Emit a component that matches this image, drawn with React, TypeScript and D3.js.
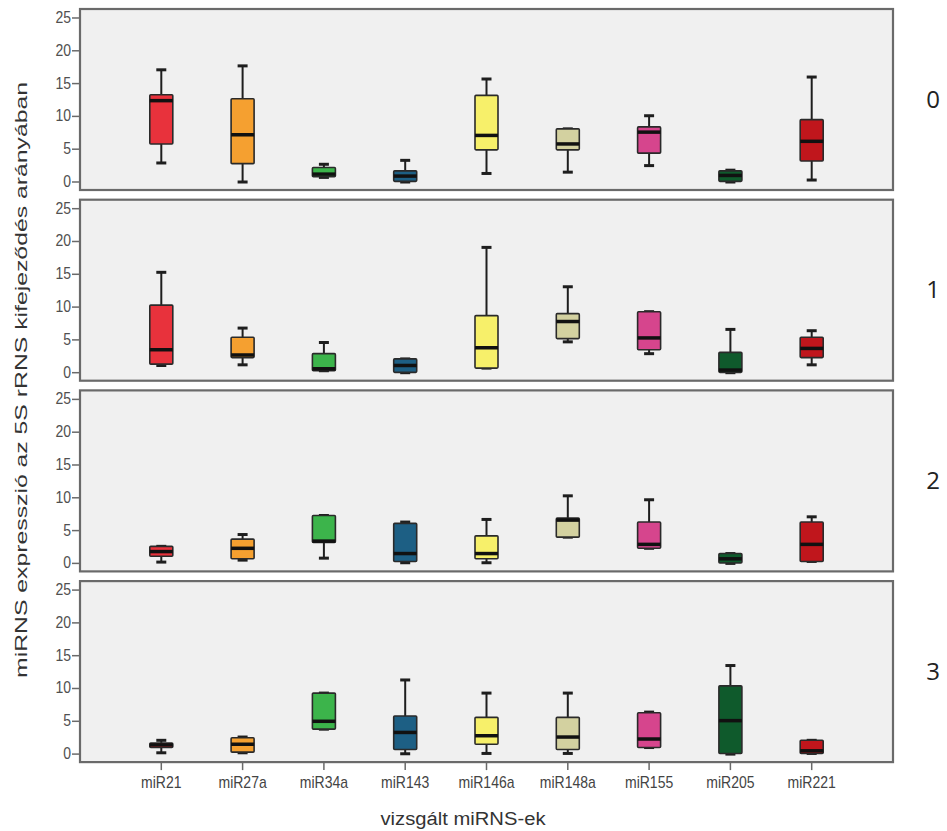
import * as d3 from "d3";

// categories and groups
const mirnas = ["miR21", "miR27a", "miR34a", "miR143", "miR146a", "miR148a", "miR155", "miR205", "miR221"];
const groupLabels = ["0", "1", "2", "3"];
const yTicks = [0, 5, 10, 15, 20, 25];
const boxColors = ["#e8323c", "#f5a030", "#3cb44b", "#1d5f84", "#f7f06a", "#d3d1a0", "#d6458d", "#0f5a2c", "#c0161c"];

// [whisker low, q1, median, q3, whisker high] for each miRNA, one array per group
const group0 = [
  [2.9, 5.8, 12.4, 13.3, 17.1],
  [0, 2.8, 7.2, 12.7, 17.7],
  [0.7, 0.8, 1.2, 2.2, 2.7],
  [0, 0.1, 0.9, 1.7, 3.3],
  [1.3, 4.9, 7.1, 13.2, 15.7],
  [1.5, 4.9, 5.8, 8.1, 8.1],
  [2.5, 4.4, 7.6, 8.4, 10.1],
  [0, 0.1, 1.0, 1.7, 1.8],
  [0.3, 3.2, 6.2, 9.5, 16.0],
];
const group1 = [
  [1.1, 1.3, 3.5, 10.3, 15.3],
  [1.2, 2.3, 2.7, 5.4, 6.8],
  [0.3, 0.3, 0.6, 2.9, 4.6],
  [0, 0.05, 1.1, 2.1, 2.1],
  [0.7, 0.7, 3.8, 8.7, 19.1],
  [4.7, 5.2, 7.8, 9.0, 13.1],
  [2.9, 3.5, 5.3, 9.3, 9.3],
  [0, 0.05, 0.4, 3.1, 6.6],
  [1.2, 2.3, 3.7, 5.4, 6.4],
];
const group2 = [
  [0.2, 1.1, 1.8, 2.6, 2.6],
  [0.5, 0.7, 2.3, 3.7, 4.4],
  [0.8, 3.2, 3.4, 7.3, 7.3],
  [0.1, 0.3, 1.5, 6.1, 6.3],
  [0.1, 0.7, 1.5, 4.2, 6.7],
  [4.0, 4.0, 6.6, 6.9, 10.3],
  [2.3, 2.3, 2.9, 6.3, 9.7],
  [0, 0.05, 0.7, 1.5, 1.5],
  [0.3, 0.3, 2.9, 6.3, 7.1],
];
const group3 = [
  [0.2, 1.0, 1.4, 1.7, 2.1],
  [0.2, 0.3, 1.5, 2.5, 2.6],
  [3.8, 3.8, 5.0, 9.3, 9.3],
  [0.05, 0.7, 3.3, 5.8, 11.3],
  [0.1, 1.5, 2.8, 5.6, 9.3],
  [0.1, 0.7, 2.6, 5.6, 9.3],
  [1.0, 1.0, 2.3, 6.3, 6.4],
  [0, 0.1, 5.1, 10.4, 13.5],
  [0.1, 0.1, 0.5, 2.1, 2.1],
];
const groups = [group0, group1, group2, group3];

const W = 947, H = 831;
const left = 80, right = 893;
const panelTop = 9, panelStep = 190.7, panelH = 181;
const boxW = 23, capW = 10;
const font = "'Liberation Sans', Arial, sans-serif";

const x = d3.scalePoint<string>().domain(mirnas).range([left, right]).padding(1);
const y = d3.scaleLinear().domain([-1.22, 26.37]).range([panelH, 0]);

const Panel = ({ data, idx }: { data: number[][]; idx: number }) => {
  const top = panelTop + idx * panelStep;
  const last = idx === groups.length - 1;
  return (
    <g transform={`translate(0, ${top})`}>
      <rect x={left} y={0} width={right - left} height={panelH} fill="#f0f0f0" stroke="#6a6a6a" strokeWidth={2.2} />
      {yTicks.map((t) => (
        <g key={t}>
          <line x1={left - 8} x2={left} y1={y(t)} y2={y(t)} stroke="#6a6a6a" strokeWidth={1.5} />
          <text transform={`translate(${left - 9}, ${y(t) + 5}) scale(1, 1.2)`} textAnchor="end"
            fontFamily={font} fontSize={14} fill="#505050">{t}</text>
        </g>
      ))}
      {data.map((d, i) => {
        const cx = x(mirnas[i]) as number;
        const [lo, q1, med, q3, hi] = d;
        return (
          <g key={i}>
            <line x1={cx} x2={cx} y1={y(hi)} y2={y(q3)} stroke="#1e1e1e" strokeWidth={2} />
            <line x1={cx} x2={cx} y1={y(q1)} y2={y(lo)} stroke="#1e1e1e" strokeWidth={2} />
            <line x1={cx - capW / 2} x2={cx + capW / 2} y1={y(hi)} y2={y(hi)} stroke="#1e1e1e" strokeWidth={3} />
            <line x1={cx - capW / 2} x2={cx + capW / 2} y1={y(lo)} y2={y(lo)} stroke="#1e1e1e" strokeWidth={3} />
            <rect x={cx - boxW / 2} y={y(q3)} width={boxW} height={Math.max(y(q1) - y(q3), 1)}
              fill={boxColors[i]} stroke="#2a2a2a" strokeWidth={1.6} rx={1} />
            <line x1={cx - boxW / 2} x2={cx + boxW / 2} y1={y(med)} y2={y(med)} stroke="#111" strokeWidth={3.5} />
          </g>
        );
      })}
      {last && mirnas.map((m) => (
        <g key={m}>
          <line x1={x(m)} x2={x(m)} y1={panelH} y2={panelH + 8} stroke="#6a6a6a" strokeWidth={1.5} />
          <text transform={`translate(${x(m)}, ${panelH + 26}) scale(1, 1.2)`} textAnchor="middle"
            fontFamily={font} fontSize={14} fill="#444">{m}</text>
        </g>
      ))}
      <text x={933} y={panelH / 2 + 8} textAnchor="middle" fontFamily="'Open Sans', sans-serif"
        fontSize={24} fill="#222">{groupLabels[idx]}</text>
    </g>
  );
};

const App = () => {
  return (
    <svg width={W} height={H} style={{ position: "absolute", left: 0, top: 0, background: "#fff" }}>
      {groups.map((g, i) => <Panel key={i} data={g} idx={i} />)}
      <text transform="translate(27, 380) rotate(-90)" textAnchor="middle" fontFamily={font} fontSize={17}
        fill="#333" textLength={596} lengthAdjust="spacingAndGlyphs">
        miRNS expresszió az 5S rRNS kifejeződés arányában
      </text>
      <text x={463} y={825} textAnchor="middle" fontFamily={font} fontSize={18} fill="#333"
        textLength={165} lengthAdjust="spacingAndGlyphs">
        vizsgált miRNS-ek
      </text>
    </svg>
  );
};

export default App;
